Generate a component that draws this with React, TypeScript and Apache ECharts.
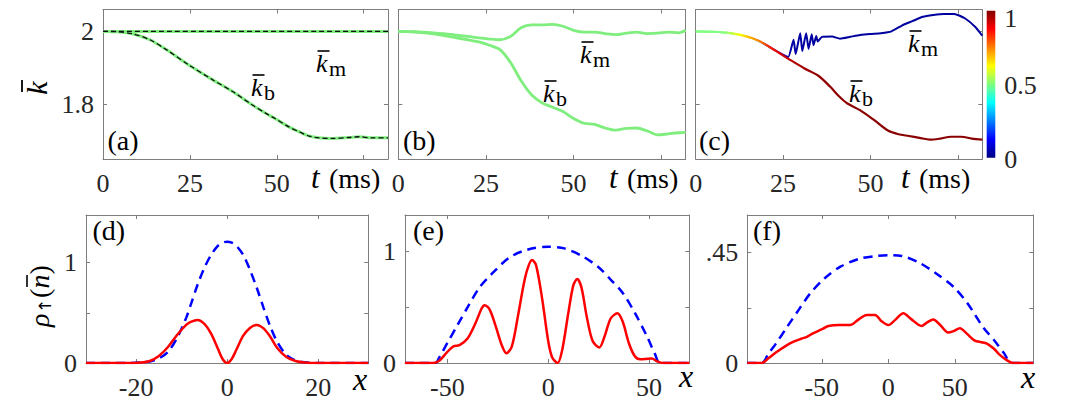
import React, { useEffect, useRef } from "react";
import * as echarts from "echarts";

// ---------- data: panel (a) ----------
const tKmA = [0, 82];
const kmA = [2, 2];
const tKbA = [0, 4, 8.7, 13.5, 18.2, 24.7, 31.6, 37.3, 43.0, 46.9, 49.5, 53.5, 56.4, 59.3, 62.1, 65.9, 70.7, 73.6, 77.4, 82];
const kbA = [2, 1.999, 1.993, 1.977, 1.95, 1.908, 1.867, 1.835, 1.798, 1.775, 1.761, 1.738, 1.725, 1.713, 1.708, 1.7065, 1.709, 1.711, 1.708, 1.708];

// ---------- data: panel (b) ----------
const tB = [0, 5, 10, 15, 20, 23, 26, 29, 32, 35, 38, 41, 44, 47, 50, 53, 56, 59, 62, 65, 68, 71, 74, 77, 80, 82];
const kmB = [2, 1.999, 1.996, 1.992, 1.986, 1.982, 1.979, 1.977, 1.986, 2.01, 2.018, 2.018, 2.019, 2.014, 2.003, 1.998, 1.998, 1.994, 1.991, 1.995, 1.998, 1.994, 1.995, 1.998, 1.996, 2.003];
const kbB = [2, 1.998, 1.993, 1.985, 1.977, 1.971, 1.962, 1.95, 1.915, 1.865, 1.826, 1.804, 1.792, 1.78, 1.761, 1.748, 1.745, 1.735, 1.729, 1.734, 1.735, 1.727, 1.716, 1.719, 1.722, 1.723];

// ---------- data: panel (c) ----------
const tKmC = [0, 5, 10, 15, 18, 21, 24, 26.5, 28, 28.6, 29.9, 30.5, 31.6, 32.3, 33.2, 33.7, 34.5, 34.9, 36.1, 39, 41.3, 44.2, 47, 50, 53, 56, 59, 62, 65, 68, 71, 74, 77, 80, 82];
const kmC = [2, 1.999, 1.995, 1.985, 1.974, 1.958, 1.941, 1.93, 1.977, 1.938, 1.995, 1.946, 1.995, 1.952, 1.992, 1.962, 1.987, 1.972, 1.985, 1.986, 1.98, 1.985, 1.99, 1.993, 1.995, 2.0, 2.016, 2.028, 2.04, 2.045, 2.048, 2.048, 2.036, 2.012, 1.988];
const tKbC = [0, 5, 10, 15, 18, 21, 24, 27, 31, 35, 38.5, 41, 43.3, 47, 51, 55, 58, 61, 64, 67, 70, 73, 76, 79, 82];
const kbC = [2, 1.999, 1.995, 1.985, 1.974, 1.958, 1.94, 1.922, 1.899, 1.879, 1.848, 1.822, 1.803, 1.784, 1.757, 1.728, 1.718, 1.713, 1.708, 1.703, 1.706, 1.711, 1.711, 1.706, 1.703];
// colour variable (0..1) along each curve of (c)
const tColKm = [0, 8, 12, 15, 18, 21, 24, 27, 35, 82];
const colKm = [0.5, 0.5, 0.55, 0.6, 0.35, 0.15, 0.07, 0.04, 0.03, 0.03];
const tColKb = [0, 8, 10, 12.6, 15.5, 18.5, 21, 24, 28, 34, 45, 82];
const colKb = [0.5, 0.5, 0.55, 0.62, 0.7, 0.76, 0.84, 0.9, 0.95, 0.98, 0.99, 0.99];
const colorbarTicks = [0, 0.5, 1];

// ---------- data: panel (d) ----------
const xD = [-31, -22, -19, -17, -15, -13, -11, -9, -8, -6.5, -5, -3.5, -2, -1, 0, 1, 2, 3.5, 5, 6.5, 8, 9.5, 11, 13, 15, 17, 20, 31];
const redD = [0, 0, 0.005, 0.02, 0.07, 0.16, 0.28, 0.38, 0.41, 0.43, 0.39, 0.29, 0.14, 0.04, 0, 0.04, 0.13, 0.27, 0.35, 0.38, 0.345, 0.26, 0.15, 0.06, 0.02, 0.005, 0, 0];
const blueD = [0, 0, 0.005, 0.015, 0.045, 0.11, 0.25, 0.45, 0.58, 0.78, 0.95, 1.08, 1.17, 1.2, 1.21, 1.2, 1.17, 1.08, 0.93, 0.75, 0.55, 0.36, 0.21, 0.08, 0.025, 0.008, 0, 0];

// ---------- data: panel (e) ----------
const xBE = [-71, -56, -54, -50, -45, -40, -34, -28, -19, -10, 0, 8, 17, 25, 31, 37, 43, 49, 53, 55.5, 70];
const blueE = [0, 0, 0.05, 0.18, 0.34, 0.5, 0.68, 0.8, 0.95, 1.02, 1.045, 1.03, 0.96, 0.86, 0.75, 0.63, 0.45, 0.24, 0.08, 0, 0];
const xRE = [-71, -57, -54, -50, -47, -44, -40, -36, -33, -31.5, -29, -26, -23, -20.7, -18, -15, -12, -10, -8, -6, -3, 0, 2, 4.7, 7, 10, 12.5, 14.4, 16.5, 19, 22, 25.4, 28, 31, 34.3, 37, 40, 43, 45.6, 48, 51.4, 54, 57, 70];
const redE = [0, 0, 0.02, 0.1, 0.15, 0.16, 0.22, 0.36, 0.49, 0.52, 0.48, 0.33, 0.16, 0.087, 0.15, 0.42, 0.72, 0.86, 0.925, 0.88, 0.58, 0.2, 0.05, 0, 0.12, 0.45, 0.7, 0.755, 0.68, 0.43, 0.2, 0.14, 0.24, 0.4, 0.446, 0.37, 0.18, 0.06, 0.033, 0.035, 0.04, 0.015, 0, 0];

// ---------- data: panel (f) ----------
const xBF = [-106, -95, -90, -85, -76, -67, -58.7, -48, -36, -22, -9, 0, 10, 24, 36, 49, 60, 71, 80, 87, 92.5, 109];
const blueF = [0, 0, 0.04, 0.075, 0.148, 0.22, 0.284, 0.345, 0.393, 0.425, 0.437, 0.44, 0.437, 0.407, 0.365, 0.311, 0.24, 0.148, 0.09, 0.04, 0, 0];
const xRF = [-106, -95, -90, -83.7, -77, -71.2, -65, -61.2, -57, -53.7, -49, -45, -37, -28.7, -23, -16.2, -10, -5, 0, 5, 11.3, 17, 25, 29, 33.8, 39, 45, 49, 53.8, 59, 65, 70, 73.8, 79, 83.8, 89, 93.8, 109];
const redF = [0, 0, 0.02, 0.046, 0.07, 0.087, 0.1, 0.107, 0.12, 0.128, 0.14, 0.151, 0.155, 0.155, 0.175, 0.196, 0.196, 0.17, 0.155, 0.175, 0.203, 0.18, 0.151, 0.165, 0.178, 0.155, 0.124, 0.13, 0.142, 0.12, 0.091, 0.085, 0.08, 0.06, 0.033, 0.012, 0, 0];

// ---------- ticks ----------
const tTicks = [0, 25, 50, 75];
const tLabels = [0, 25, 50];
const kTicks = [1.8, 2];
const xTicksD = [-20, 0, 20];
const xTicksEF = [-50, 0, 50];
const rhoTicksDE = [0, 0.5, 1];
const rhoLabelsDE = [0, 1];
const rhoTicksF = [0, 0.225, 0.45];
const rhoLabelsF = [0, 0.45];

// ---------- style ----------
const FAM = "Liberation Serif";
const SERIF = "'Liberation Serif', serif";
const AX = "#7d7d7d";
const LBL = "#262626";
const GREEN = "#7fee7f";

function jet(c: number) {
  const cl = (v: number) => Math.max(0, Math.min(1, v));
  const r = cl(1.5 - Math.abs(4 * c - 3));
  const g = cl(1.5 - Math.abs(4 * c - 2));
  const b = cl(1.5 - Math.abs(4 * c - 1));
  return `rgb(${Math.round(r * 255)},${Math.round(g * 255)},${Math.round(b * 255)})`;
}

type Panel = {
  left: number; top: number; width: number; height: number;
  x: [number, number]; y: [number, number];
  xt: number[]; xl: number[]; yt: number[]; yl: number[];
};

const panels: Panel[] = [
  { left: 103, top: 9.5, width: 285, height: 149.5, x: [0, 82], y: [1.65, 2.06], xt: tTicks, xl: tLabels, yt: kTicks, yl: kTicks },
  { left: 398.3, top: 9.5, width: 287.4, height: 149.5, x: [0, 82], y: [1.65, 2.06], xt: tTicks, xl: tLabels, yt: kTicks, yl: [] },
  { left: 695.7, top: 9.5, width: 286.6, height: 149.5, x: [0, 82], y: [1.65, 2.06], xt: tTicks, xl: tLabels, yt: kTicks, yl: [] },
  { left: 86, top: 215, width: 282.3, height: 148, x: [-31, 31], y: [0, 1.476], xt: xTicksD, xl: xTicksD, yt: rhoTicksDE, yl: rhoLabelsDE },
  { left: 405, top: 215, width: 284.3, height: 148, x: [-71, 70], y: [0, 1.33], xt: xTicksEF, xl: xTicksEF, yt: rhoTicksDE, yl: rhoLabelsDE },
  { left: 747.3, top: 215, width: 286, height: 148, x: [-106, 109], y: [0, 0.604], xt: xTicksEF, xl: xTicksEF, yt: rhoTicksF, yl: rhoLabelsF },
];

const fmt = (v: number) => (Math.abs(v - 0.45) < 1e-9 ? ".45" : String(v));

function buildOption() {
  const grid: any[] = [];
  const xAxis: any[] = [];
  const yAxis: any[] = [];
  const labelStyle = { fontFamily: FAM, fontSize: 26, color: LBL };
  panels.forEach((p, i) => {
    grid.push({ left: p.left, top: p.top, width: p.width, height: p.height, containLabel: false, outerBoundsMode: "none" });
    const base = {
      type: "value", gridIndex: i, splitLine: { show: false },
      axisLine: { show: true, onZero: false, lineStyle: { color: AX, width: 1 } },
    };
    const tick = (vals: number[]) => ({ show: true, inside: true, length: 4, customValues: vals, lineStyle: { color: AX, width: 1 } });
    xAxis.push({ ...base, min: p.x[0], max: p.x[1], position: "bottom", axisTick: tick(p.xt),
      axisLabel: { show: p.xl.length > 0, customValues: p.xl, formatter: fmt, margin: 11, showMinLabel: true, showMaxLabel: true, ...labelStyle } });
    xAxis.push({ ...base, min: p.x[0], max: p.x[1], position: "top", axisTick: tick(p.xt), axisLabel: { show: false } });
    yAxis.push({ ...base, min: p.y[0], max: p.y[1], position: "left", axisTick: tick(p.yt),
      axisLabel: { show: p.yl.length > 0, customValues: p.yl.length ? p.yl : p.yt, formatter: fmt, margin: 9, showMinLabel: true, showMaxLabel: true, ...labelStyle } });
    yAxis.push({ ...base, min: p.y[0], max: p.y[1], position: "right", axisTick: tick(p.yt), axisLabel: { show: false } });
  });
  // colorbar grid (index 6)
  grid.push({ left: 986.7, top: 10.7, width: 8.6, height: 147, containLabel: false, outerBoundsMode: "none" });
  xAxis.push({ type: "category", gridIndex: 6, data: ["c"], show: false });
  yAxis.push({ type: "value", gridIndex: 6, min: 0, max: 1, position: "right", splitLine: { show: false },
    axisLine: { show: false }, axisTick: { show: false },
    axisLabel: {
      show: true, customValues: colorbarTicks, margin: 9, showMinLabel: true, showMaxLabel: true, ...labelStyle,
      formatter: (v: number) => (v === 1 ? "{top|1}" : v === 0 ? "{bot|0}" : "{mid|0.5}"),
      rich: {
        top: { fontFamily: FAM, fontSize: 26, color: LBL, padding: [15, 0, 0, 0] },
        mid: { fontFamily: FAM, fontSize: 26, color: LBL, padding: [3, 0, 0, 0] },
        bot: { fontFamily: FAM, fontSize: 26, color: LBL, padding: [4, 0, 0, 0] },
      },
    } });

  const pairs = (xs: number[], ys: number[]) => xs.map((x, k) => [x, ys[k]]);
  const line = (gi: number, xs: number[], ys: number[], color: any, width: number, type: any = "solid", z = 2, smooth = 0.3) => ({
    type: "line", xAxisIndex: 2 * gi, yAxisIndex: 2 * gi, data: pairs(xs, ys), showSymbol: false, symbol: "none",
    smooth, silent: true, z, lineStyle: { color, width, type, cap: "butt" },
  });
  const grad = (ts: number[], cs: number[], tmax: number) => ({
    type: "linear", x: 0, y: 0, x2: 1, y2: 0, global: false,
    colorStops: ts.map((t, k) => ({ offset: t / tmax, color: jet(cs[k]) })),
  });
  const cbStops = [1, 0.875, 0.75, 0.625, 0.5, 0.375, 0.25, 0.125, 0].map((c) => ({ offset: 1 - c, color: jet(c) }));

  const series: any[] = [
    line(0, tKmA, kmA, GREEN, 3),
    line(0, tKbA, kbA, GREEN, 3),
    line(0, tKmA, kmA, "#111", 1.3, [5, 3], 3),
    line(0, tKbA, kbA, "#111", 1.3, [5, 3], 3),
    line(1, tB, kmB, GREEN, 2.8),
    line(1, tB, kbB, GREEN, 2.8),
    line(2, tKmC, kmC, grad(tColKm, colKm, 82), 2, "solid", 2, 0.15),
    line(2, tKbC, kbC, grad(tColKb, colKb, 82), 2.2, "solid", 3),
    {
      type: "bar", xAxisIndex: 12, yAxisIndex: 12, data: [1], barWidth: "100%", silent: true,
      itemStyle: { color: { type: "linear", x: 0, y: 0, x2: 0, y2: 1, colorStops: cbStops } },
    },
    line(3, xD, blueD, "#0000ff", 2.5, [9, 6]),
    line(3, xD, redD, "#ff0000", 2.5, "solid", 3),
    line(4, xBE, blueE, "#0000ff", 2.5, [9, 6]),
    line(4, xRE, redE, "#ff0000", 2.5, "solid", 3),
    line(5, xBF, blueF, "#0000ff", 2.5, [9, 6]),
    line(5, xRF, redF, "#ff0000", 2.5, "solid", 3),
  ];

  const txt = (text: string, x: number, y: number, font: string, align = "left") => ({
    type: "text", x, y, silent: true,
    style: { text, font, fill: "#000", textAlign: align, textVerticalAlign: "middle" },
  });
  const kbar = (left: number, baseline: number, sub: string) => [
    txt("k", left, baseline - 9, `italic 26px ${SERIF}`),
    txt(sub, left + 13, baseline - 3.5, `22px ${SERIF}`),
    { type: "line", silent: true, shape: { x1: left + 1.5, y1: baseline - 21, x2: left + 13.5, y2: baseline - 21 }, style: { stroke: "#000", lineWidth: 1.6 } },
  ];
  const tms = (x: number) => [txt("t", x, 177, `italic 31px ${SERIF}`), txt("(ms)", x + 18, 178, `28px ${SERIF}`)];
  const graphic: any[] = [
    txt("(a)", 107.5, 140.5, `28px ${SERIF}`),
    txt("(b)", 403, 140.5, `28px ${SERIF}`),
    txt("(c)", 699, 140.5, `28px ${SERIF}`),
    txt("(d)", 92.5, 230.5, `28px ${SERIF}`),
    txt("(e)", 413, 230.5, `28px ${SERIF}`),
    txt("(f)", 753, 230.5, `28px ${SERIF}`),
    ...kbar(316, 72, "m"), ...kbar(251, 96, "b"),
    ...kbar(580, 63, "m"), ...kbar(543, 102, "b"),
    ...kbar(908, 52, "m"), ...kbar(849, 102, "b"),
    ...tms(311), ...tms(609), ...tms(901),
    txt("x", 353, 379, `italic 32px ${SERIF}`),
    txt("x", 679, 376, `italic 32px ${SERIF}`),
    txt("x", 1021, 377, `italic 32px ${SERIF}`),
    {
      type: "group", x: 36, y: 88, rotation: Math.PI / 2, silent: true,
      children: [
        txt("k", 0, 0, `italic 30px ${SERIF}`, "center"),
        { type: "line", shape: { x1: -4, y1: -14, x2: 8, y2: -14 }, style: { stroke: "#000", lineWidth: 1.8 } },
      ],
    },
    {
      type: "group", x: 39, y: 293, rotation: Math.PI / 2, silent: true,
      children: [
        txt("ρ", -34, 0, `italic 28px ${SERIF}`),
        txt("↑", -20, 6, `17px 'DejaVu Sans', sans-serif`),
        txt("(", -5, 0, `28px ${SERIF}`),
        txt("n", 4.5, 0, `italic 28px ${SERIF}`),
        { type: "line", shape: { x1: 6, y1: -12, x2: 18, y2: -12 }, style: { stroke: "#000", lineWidth: 1.6 } },
        txt(")", 18.5, 0, `28px ${SERIF}`),
      ],
    },
  ];

  return { animation: false, backgroundColor: "#fff", grid, xAxis, yAxis, series, graphic };
}

export default function App() {
  const ref = useRef<HTMLDivElement>(null);
  useEffect(() => {
    const chart = echarts.init(ref.current!, null, { renderer: "svg" });
    chart.setOption(buildOption() as any);
    return () => chart.dispose();
  }, []);
  return <div ref={ref} style={{ position: "fixed", left: 0, top: 0, width: 1072, height: 403, background: "#fff" }} />;
}
